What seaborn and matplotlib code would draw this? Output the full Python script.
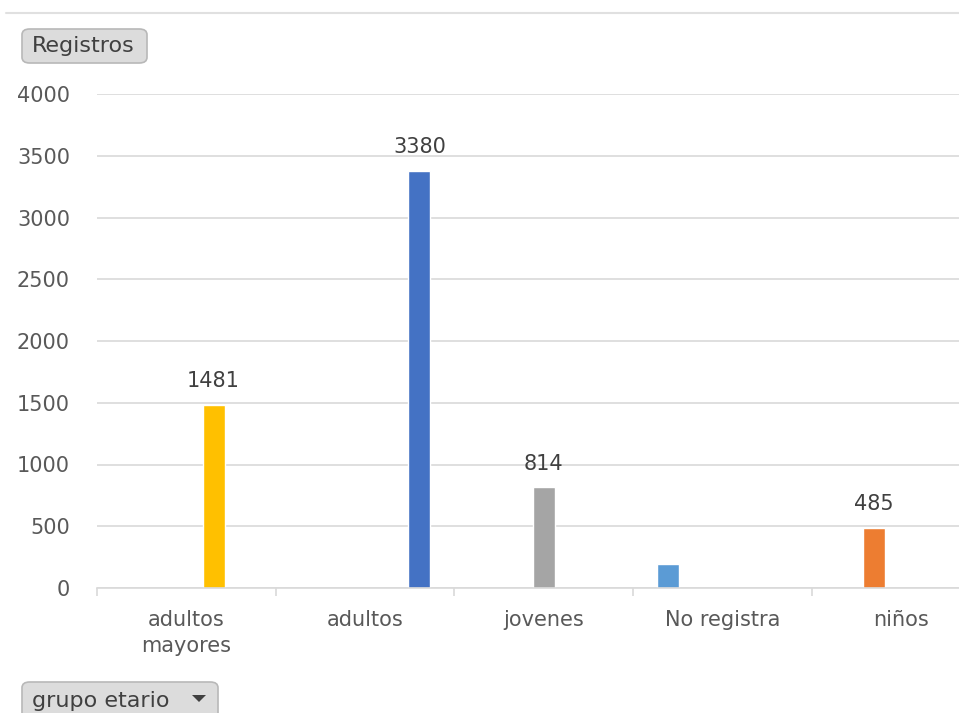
import matplotlib
matplotlib.use("Agg")
import matplotlib.pyplot as plt
import seaborn as sns
import pandas as pd
from matplotlib.patches import FancyBboxPatch, Polygon
from matplotlib.lines import Line2D

categories = ["adultos mayores", "adultos", "jovenes", "No registra", "niños"]
tick_labels = ["adultos\nmayores", "adultos", "jovenes", "No registra", "niños"]
values = [1481, 3380, 814, 197, 485]
hue_order = ["No registra", "niños", "jovenes", "adultos mayores", "adultos"]
colors = {"adultos mayores": "#FFC000", "adultos": "#4472C4", "jovenes": "#A5A5A5",
          "No registra": "#5B9BD5", "niños": "#ED7D31"}
labeled = ["adultos mayores", "adultos", "jovenes", "niños"]

df = pd.DataFrame({"grupo": categories, "Registros": values})

sns.set_theme(style="white")
plt.rcParams["font.family"] = ["DejaVu Sans"]

W, H = 959, 713
fig = plt.figure(figsize=(W / 100, H / 100), dpi=100)
ax = fig.add_axes([97 / W, 1 - 588 / H, (W - 97) / W, (588 - 94) / H])

sns.barplot(data=df, x="grupo", y="Registros", hue="grupo", order=categories,
            hue_order=hue_order, palette=colors, dodge=True, width=0.76, gap=0.19,
            legend=False, ax=ax, saturation=1)

ax.set_ylim(0, 4000)
ax.set_yticks(range(0, 4001, 500))
ax.yaxis.grid(True, color="#D9D9D9", linewidth=1.2)
ax.set_axisbelow(True)
for s in ["top", "right", "left"]:
    ax.spines[s].set_visible(False)
ax.spines["bottom"].set_color("#D9D9D9")
ax.spines["bottom"].set_linewidth(1.2)

ax.set_xticks(range(len(categories)))
ax.set_xticklabels(tick_labels, fontsize=15, color="#595959", linespacing=1.35)
ax.set_xticks([i - 0.5 for i in range(len(categories) + 1)], minor=True)
ax.tick_params(axis="x", which="major", length=0, pad=16)
ax.tick_params(axis="x", which="minor", length=6, color="#D9D9D9", width=1.2, bottom=True)
ax.tick_params(axis="y", length=0, labelsize=15, labelcolor="#595959", pad=19.5)
ax.set_xlabel("")
ax.set_ylabel("")

for cont, name in zip(ax.containers, hue_order):
    if name in labeled:
        ax.bar_label(cont, fmt="%d", padding=10, fontsize=15, color="#404040")

cat_w = 178.7
ax.set_autoscale_on(False)
ax.set_xlim(-0.5, -0.5 + (W - 97) / cat_w)

# top separator line
fig.add_artist(Line2D([6 / W, 1], [1 - 13 / H, 1 - 13 / H], color="#E0E0E0", linewidth=1.5))

# pivot buttons
def button(x0, y0, x1, y1, text, arrow=False):
    b = FancyBboxPatch((x0 / W, 1 - y1 / H), (x1 - x0) / W, (y1 - y0) / H,
                       boxstyle="round,pad=0,rounding_size=0.008",
                       transform=fig.transFigure, facecolor="#DCDCDC",
                       edgecolor="#B8B8B8", linewidth=1.2)
    fig.add_artist(b)
    fig.text((x0 + 10) / W, 1 - ((y0 + y1) / 2) / H, text, fontsize=16,
             color="#404040", va="center", ha="left")
    if arrow:
        tri = Polygon([[(x1 - 26) / W, 1 - 695 / H], [(x1 - 12) / W, 1 - 695 / H],
                       [(x1 - 19) / W, 1 - 702 / H]], closed=True,
                      transform=fig.transFigure, facecolor="#404040", edgecolor="none")
        fig.add_artist(tri)

button(22, 29, 147, 63, "Registros")
button(22, 682, 218, 720, "grupo etario", arrow=True)

fig.savefig("out.png", dpi=100)
